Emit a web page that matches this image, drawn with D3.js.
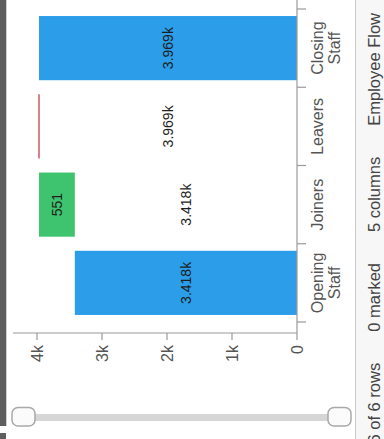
<!DOCTYPE html>
<html>
<head>
<meta charset="utf-8">
<script src="https://cdn.jsdelivr.net/npm/d3@7"></script>
<style>
  html, body { margin: 0; padding: 0; background: #fff; }
  svg { display: block; font-family: "Liberation Sans", Arial, sans-serif; }
</style>
</head>
<body>
<svg id="chart" width="384" height="439"></svg>
<script>
// ---- data ----
const categories = ["Opening Staff", "Joiners", "Leavers", "Closing Staff"];
const values = [3418, 551, 0, 3969];
const kinds = ["total", "increase", "decrease", "total"];
const tickValues = [0, 1000, 2000, 3000, 4000];
const tickLabels = ["0", "1k", "2k", "3k", "4k"];
const statusItems = ["Employee Flow", "5 columns", "0 marked", "6 of 6 rows"];

const colors = { total: "#2b9de9", increase: "#3ec46e", decrease: "#dc8088" };

const svg = d3.select("#chart");

// ---- waterfall computation ----
let running = 0;
const rows = categories.map((c, i) => {
  const v = values[i], k = kinds[i];
  let base, top;
  if (k === "total") { base = 0; top = v; running = v; }
  else if (k === "increase") { base = running; top = running + v; running = top; }
  else { top = running; base = running - v; running = base; }
  return { cat: c, value: v, kind: k, base, top };
});

const fmt = v => v >= 1000 ? (v / 1000).toFixed(3) + "k" : String(v);

// ---- scales (chart is drawn rotated: values run right->left, categories bottom->top) ----
const x = d3.scaleLinear().domain([0, 4000]).range([297, 37]);
const y = d3.scaleBand().domain(categories).range([322, 9]).paddingInner(0.18).paddingOuter(0.09);
const step = y.step();

// ---- left dark strip ----
svg.append("rect").attr("x", 0).attr("y", 0).attr("width", 6).attr("height", 426).attr("fill", "#5e5e5e");
svg.append("line").attr("x1", 6.5).attr("x2", 6.5).attr("y1", 0).attr("y2", 426).attr("stroke", "#cfcfcf");
svg.append("rect").attr("x", 0).attr("y", 433).attr("width", 6).attr("height", 6).attr("fill", "#5e5e5e");

// ---- bars ----
const g = svg.append("g");
g.selectAll("rect.bar").data(rows).join("rect")
  .attr("class", "bar")
  .attr("x", d => x(d.top) - (d.top === d.base ? 1 : 0))
  .attr("width", d => Math.max(2, x(d.base) - x(d.top)))
  .attr("y", d => y(d.cat))
  .attr("height", y.bandwidth())
  .attr("fill", d => colors[d.kind]);

// labels
const labels = [];
rows.forEach(d => {
  const cy = y(d.cat) + y.bandwidth() / 2;
  if (d.kind === "total") {
    labels.push({ v: (d.base + d.top) / 2, cy, t: fmt(d.value) });
  } else {
    if (d.value > 0) labels.push({ v: (d.base + d.top) / 2, cy, t: fmt(d.value) });
    labels.push({ v: d.base / 2, cy, t: fmt(d.base) });
  }
});
g.selectAll("text.lbl").data(labels).join("text")
  .attr("class", "lbl")
  .attr("transform", d => `translate(${x(d.v)},${d.cy}) rotate(-90)`)
  .attr("text-anchor", "middle")
  .attr("dy", "0.35em")
  .attr("font-size", 14)
  .attr("fill", "#1e1e1e")
  .text(d => d.t);

// ---- value axis (horizontal, at bottom) ----
const axisY = 333;
svg.append("line").attr("x1", 13).attr("x2", 297).attr("y1", axisY).attr("y2", axisY)
  .attr("stroke", "#9a9a9a").attr("stroke-width", 1.2);
const vt = svg.selectAll("g.vt").data(tickValues).join("g").attr("class", "vt")
  .attr("transform", d => `translate(${x(d)},0)`);
vt.append("line").attr("y1", axisY).attr("y2", axisY + 7).attr("stroke", "#9a9a9a").attr("stroke-width", 1.2);
vt.append("text")
  .attr("transform", `translate(0,${axisY + 12}) rotate(-90)`)
  .attr("text-anchor", "end")
  .attr("dy", "0.35em")
  .attr("font-size", 16)
  .attr("fill", "#555")
  .text((d, i) => tickLabels[i]);

// ---- category axis (vertical, at right) ----
svg.append("line").attr("x1", 297).attr("x2", 297).attr("y1", 0).attr("y2", axisY)
  .attr("stroke", "#9a9a9a").attr("stroke-width", 1.2);
const bounds = categories.map(c => y(c) + y.bandwidth() + step * 0.09).concat([y(categories[categories.length - 1]) - step * 0.09]);
svg.selectAll("line.ct").data(bounds).join("line").attr("class", "ct")
  .attr("x1", 297).attr("x2", 306).attr("y1", d => d).attr("y2", d => d)
  .attr("stroke", "#9a9a9a").attr("stroke-width", 1.2);
const cl = svg.selectAll("text.cl").data(categories).join("text").attr("class", "cl")
  .attr("transform", d => `translate(323,${y(d) + y.bandwidth() / 2}) rotate(-90)`)
  .attr("text-anchor", "middle")
  .attr("font-size", 16)
  .attr("fill", "#555");
cl.selectAll("tspan").data(d => d.split(" ")).join("tspan")
  .attr("x", 0)
  .attr("dy", (d, i) => i === 0 ? 0 : 17)
  .text(d => d);

// ---- slider ----
svg.append("rect").attr("x", 24).attr("y", 414).attr("width", 316).attr("height", 7).attr("fill", "#d6d6d6");
[12, 328].forEach(hx => {
  svg.append("rect").attr("x", hx).attr("y", 407.5).attr("width", 23).attr("height", 18.5).attr("rx", 6)
    .attr("fill", "#fbfbfb").attr("stroke", "#a9a9a9").attr("stroke-width", 1.5);
});

// ---- status bar ----
svg.append("rect").attr("x", 355).attr("y", 0).attr("width", 29).attr("height", 439).attr("fill", "#f7f7f7");
svg.append("line").attr("x1", 355.5).attr("x2", 355.5).attr("y1", 0).attr("y2", 439).attr("stroke", "#c9c9c9");
let sy = 13;
statusItems.forEach(s => {
  const t = svg.append("text")
    .attr("transform", `translate(380,${sy}) rotate(-90)`)
    .attr("text-anchor", "end")
    .attr("font-size", 16.5)
    .attr("fill", "#444")
    .text(s);
  sy += t.node().getComputedTextLength() + 31;
});
</script>
</body>
</html>
